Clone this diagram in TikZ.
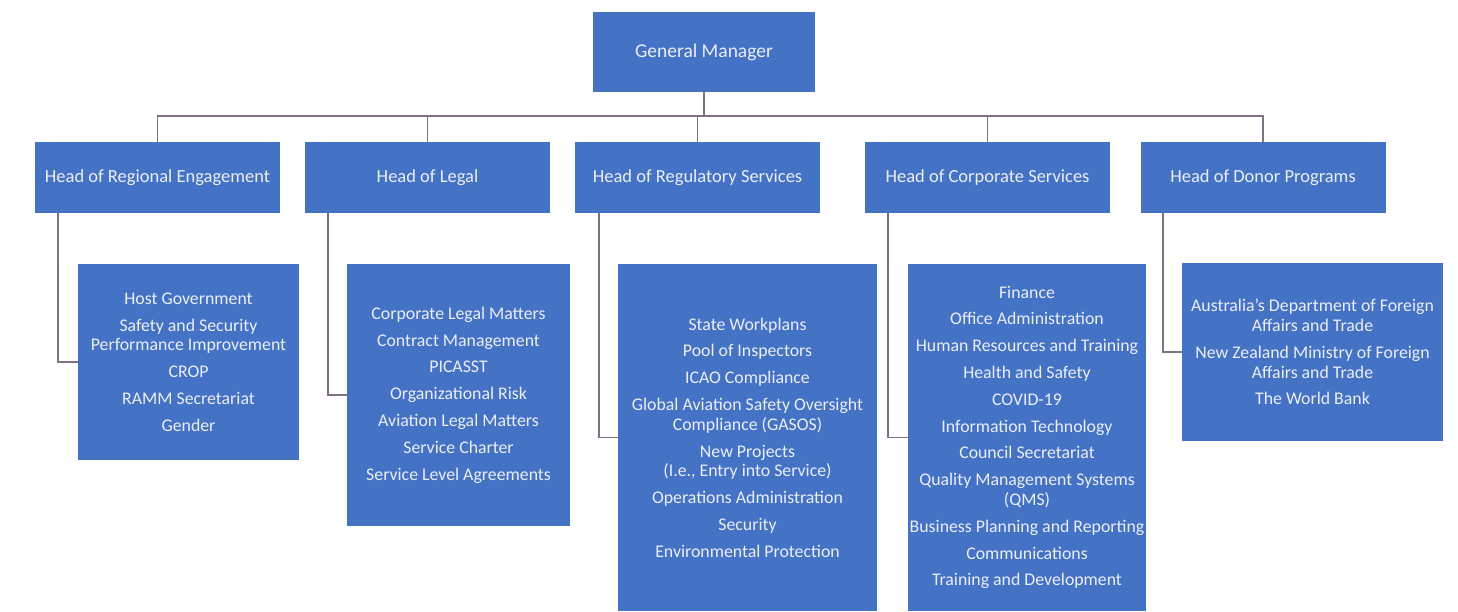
\documentclass[tikz,border=0pt]{standalone}
\usepackage{fontspec}
\setmainfont{Carlito}
\definecolor{boxblue}{RGB}{68,114,196}
\definecolor{linec}{RGB}{128,112,132}
\definecolor{txt}{RGB}{235,238,245}
\begin{document}
\begin{tikzpicture}[x=1pt,y=-1pt,
  box/.style={fill=boxblue,draw=none,text=txt,align=center,inner sep=0pt,
    font=\fontsize{17.8}{19.8}\selectfont},
  headbox/.style={box,minimum width=245pt,minimum height=71pt,font=\fontsize{18.5}{20}\selectfont},
  conn/.style={draw=linec,line width=1.8pt}]
\useasboundingbox (0,0) rectangle (1458,612);
\fill[white] (0,0) rectangle (1458,612);
\node[box,minimum width=222pt,minimum height=80pt,font=\fontsize{19.5}{21}\selectfont] (gm) at (704,52) {General Manager};
\node[headbox] (hreg) at (157.5,177.5) {Head of Regional Engagement};
\node[headbox] (hleg) at (427.5,177.5) {Head of Legal};
\node[headbox] (hrs) at (697.5,177.5) {Head of Regulatory Services};
\node[headbox] (hcs) at (987.5,177.5) {Head of Corporate Services};
\node[headbox] (hdp) at (1263,177.5) {Head of Donor Programs};
\coordinate (bar) at (704,116);
\draw[conn] (gm.south) -- (bar);
\draw[conn] (hreg.north) |- (bar) -| (hdp.north);
\draw[conn] (hleg.north) -- (hleg.north |- bar);
\draw[conn] (hrs.north) -- (hrs.north |- bar);
\draw[conn] (hcs.north) -- (hcs.north |- bar);
% children
\node[box,minimum width=221pt,minimum height=195pt] (creg) at (188.5,362) {Host Government\\[7pt]Safety and Security\\Performance Improvement\\[7pt]CROP\\[7pt]RAMM Secretariat\\[7pt]Gender};
\node[box,minimum width=223pt,minimum height=262pt] (cleg) at (458.5,395) {Corporate Legal Matters\\[7pt]Contract Management\\[7pt]PICASST\\[7pt]Organizational Risk\\[7pt]Aviation Legal Matters\\[7pt]Service Charter\\[7pt]Service Level Agreements};
\node[box,minimum width=259pt,minimum height=347pt] (crs) at (747.5,437.5) {State Workplans\\[7pt]Pool of Inspectors\\[7pt]ICAO Compliance\\[7pt]Global Aviation Safety Oversight\\Compliance (GASOS)\\[7pt]New Projects\\(I.e., Entry into Service)\\[7pt]Operations Administration\\[7pt]Security\\[7pt]Environmental Protection};
\node[box,minimum width=238pt,minimum height=347pt] (ccs) at (1027,437.5) {Finance\\[7pt]Office Administration\\[7pt]Human Resources and Training\\[7pt]Health and Safety\\[7pt]COVID-19\\[7pt]Information Technology\\[7pt]Council Secretariat\\[7pt]Quality Management Systems\\(QMS)\\[7pt]Business Planning and Reporting\\[7pt]Communications\\[7pt]Training and Development};
\node[box,minimum width=261pt,minimum height=177pt] (cdp) at (1312.5,352) {Australia's Department of Foreign\\Affairs and Trade\\[7pt]New Zealand Ministry of Foreign\\Affairs and Trade\\[7pt]The World Bank};
\draw[conn] ([xshift=23pt]hreg.south west) |- (creg.west);
\draw[conn] ([xshift=23pt]hleg.south west) |- (cleg.west);
\draw[conn] ([xshift=24pt]hrs.south west) |- (crs.west);
\draw[conn] ([xshift=23pt]hcs.south west) |- (ccs.west);
\draw[conn] ([xshift=23pt]hdp.south west) |- (cdp.west);
\end{tikzpicture}
\end{document}
